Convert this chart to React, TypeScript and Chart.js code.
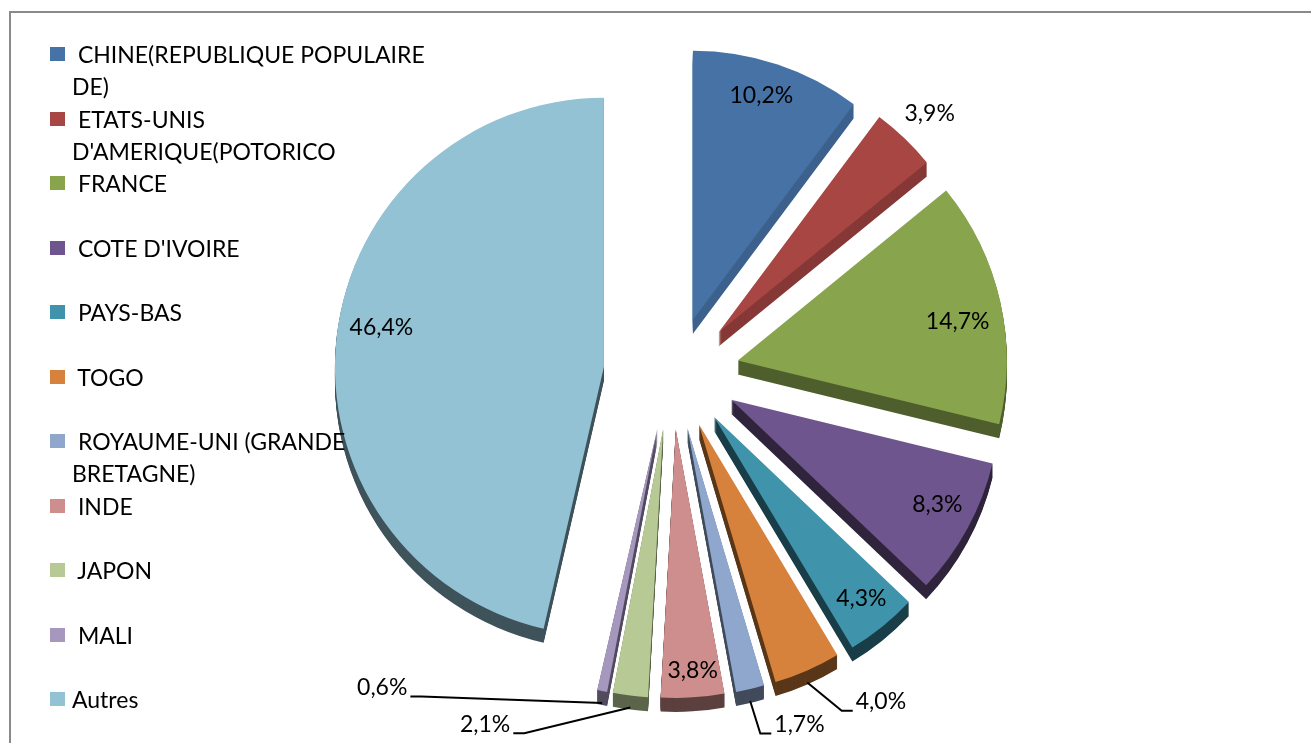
import React, { useEffect, useRef } from "react";
import { Chart, registerables } from "chart.js";

Chart.register(...registerables);

// ---- data ----
const CATEGORIES: string[][] = [
  [" CHINE(REPUBLIQUE POPULAIRE", "DE)"],
  [" ETATS-UNIS", "D'AMERIQUE(POTORICO"],
  [" FRANCE"],
  [" COTE D'IVOIRE"],
  [" PAYS-BAS"],
  [" TOGO"],
  [" ROYAUME-UNI (GRANDE", "BRETAGNE)"],
  [" INDE"],
  [" JAPON"],
  [" MALI"],
  ["Autres"],
];
const SHARES: number[] = [10.2, 3.9, 14.7, 8.3, 4.3, 4.0, 1.7, 3.8, 2.1, 0.6, 46.4];
const SHARE_LABELS: string[] = SHARES.map((v) => v.toFixed(1).replace(".", ",") + "%");

// ---- styles ----
const COLORS: string[] = [
  "#4672a6",
  "#a84644",
  "#88a44d",
  "#6f558d",
  "#3f94ab",
  "#d6823c",
  "#90a7cd",
  "#cd8e8d",
  "#b7ca95",
  "#a597bd",
  "#93c2d4",
];
// darkening of the extruded side of each slice (lighting)
const SIDE_SHADE: number[] = [0.85, 0.8, 0.58, 0.42, 0.42, 0.42, 0.45, 0.45, 0.5, 0.5, 0.43];
const FONT = "Lato, 'Open Sans', sans-serif";
const FONT_SIZE = 23;
const PIE_RADIUS = 269;
const EXPLODE_X = 68;
const EXPLODE_Y = 56;
const DEPTH = 14;
// label placement relative to each slice's apex: [angle clockwise from top (deg), radius factor, leader side]
const LABEL_PLACEMENT: [number, number, number][] = [
  [17, 0.87, 0],
  [44, 1.13, 0],
  [80, 0.83, 0],
  [117, 0.86, 0],
  [141, 0.87, 0],
  [153.5, 1.19, 1],
  [166.6, 1.17, 1],
  [176, 0.9, 0],
  [204.5, 1.245, -1],
  [221.3, 1.33, -1],
  [280, 0.84, 0],
];
const LEGEND_TOP = 54;
const LEGEND_STEP = 64.5;

function shade(hex: string, f: number): string {
  const n = parseInt(hex.slice(1), 16);
  const r = Math.round(((n >> 16) & 255) * f);
  const g = Math.round(((n >> 8) & 255) * f);
  const b = Math.round((n & 255) * f);
  return `rgb(${r},${g},${b})`;
}

const pie3dPlugin = {
  id: "pie3d",
  beforeDatasetsDraw(chart: any) {
    const ctx: CanvasRenderingContext2D = chart.ctx;
    const meta = chart.getDatasetMeta(0);
    const arcs: any[] = meta.data;
    const drawArc = (arc: any, color: string, dx: number, dy: number) => {
      const clone = Object.create(arc);
      clone.options = {
        backgroundColor: color,
        borderColor: color,
        borderWidth: 0,
        borderAlign: "center",
        borderRadius: 0,
        borderJoinStyle: undefined,
        borderDash: [],
        borderDashOffset: 0,
        offset: 0,
        spacing: 0,
        circular: true,
      };
      ctx.save();
      ctx.translate(dx, dy);
      clone.draw(ctx);
      ctx.restore();
    };
    const shifts = arcs.map((arc) => {
      const mid = (arc.startAngle + arc.endAngle) / 2;
      return [Math.cos(mid) * EXPLODE_X, Math.sin(mid) * EXPLODE_Y];
    });
    arcs.forEach((arc, i) => {
      const dark = shade(COLORS[i], SIDE_SHADE[i]);
      for (let k = DEPTH; k >= 1; k--) drawArc(arc, dark, shifts[i][0], shifts[i][1] + k);
    });
    arcs.forEach((arc, i) => drawArc(arc, COLORS[i], shifts[i][0], shifts[i][1]));

    ctx.save();
    ctx.font = `${FONT_SIZE}px ${FONT}`;
    ctx.fillStyle = "#000";
    ctx.strokeStyle = "#000";
    ctx.lineWidth = 2;
    ctx.textBaseline = "middle";
    arcs.forEach((arc, i) => {
      const [deg, f, side] = LABEL_PLACEMENT[i];
      const R = arc.outerRadius;
      const ax = arc.x + shifts[i][0];
      const ay = arc.y + shifts[i][1];
      const a = (deg * Math.PI) / 180;
      const px = ax + Math.sin(a) * R * f;
      const py = ay - Math.cos(a) * R * f;
      if (side === 0) {
        ctx.textAlign = "center";
        ctx.fillText(SHARE_LABELS[i], px, py);
      } else {
        const mid = (arc.startAngle + arc.endAngle) / 2;
        const ex = ax + Math.cos(mid) * R;
        const ey = ay + Math.sin(mid) * R + DEPTH - 2;
        ctx.beginPath();
        ctx.moveTo(ex, ey);
        ctx.lineTo(px, py);
        ctx.lineTo(px + side * 11, py);
        ctx.stroke();
        ctx.textAlign = side > 0 ? "left" : "right";
        ctx.fillText(SHARE_LABELS[i], px + side * 14, py - 9);
      }
    });
    ctx.restore();
    return false;
  },
};

export default function App() {
  const canvasRef = useRef<HTMLCanvasElement | null>(null);

  useEffect(() => {
    if (!canvasRef.current) return;
    const chart = new Chart(canvasRef.current, {
      type: "pie",
      data: {
        labels: CATEGORIES,
        datasets: [
          {
            data: SHARES,
            backgroundColor: COLORS,
            borderWidth: 0,
            radius: PIE_RADIUS,
          } as any,
        ],
      },
      options: {
        responsive: false,
        animation: false,
        events: [],
        layout: { padding: { left: 32, top: 3, right: 0, bottom: 0 } },
        plugins: {
          legend: { display: false },
          tooltip: { enabled: false },
        },
      },
      plugins: [pie3dPlugin as any],
    });
    return () => chart.destroy();
  }, []);

  return (
    <div
      style={{
        position: "fixed",
        left: 0,
        top: 0,
        width: 1311,
        height: 743,
        overflow: "hidden",
        background: "#fff",
      }}
    >
      <div
        style={{
          position: "absolute",
          left: 9,
          top: 11,
          width: 2000,
          height: 2000,
          borderTop: "2px solid #8a8a8a",
          borderLeft: "2px solid #8a8a8a",
        }}
      />
      <canvas
        ref={canvasRef}
        width={1311}
        height={743}
        style={{ position: "absolute", left: 0, top: 0 }}
      />
      {CATEGORIES.map((lines, i) => (
        <div
          key={i}
          style={{
            position: "absolute",
            left: 0,
            top: LEGEND_TOP + i * LEGEND_STEP - 16,
            height: 32,
          }}
        >
          <div
            style={{
              position: "absolute",
              left: 50,
              top: 9,
              width: 15,
              height: 14,
              background: COLORS[i],
            }}
          />
          <div
            style={{
              position: "absolute",
              left: 72,
              top: 0,
              whiteSpace: "pre",
              fontFamily: FONT,
              fontSize: FONT_SIZE,
              lineHeight: "32px",
              color: "#000",
            }}
          >
            {lines.join("\n")}
          </div>
        </div>
      ))}
    </div>
  );
}
